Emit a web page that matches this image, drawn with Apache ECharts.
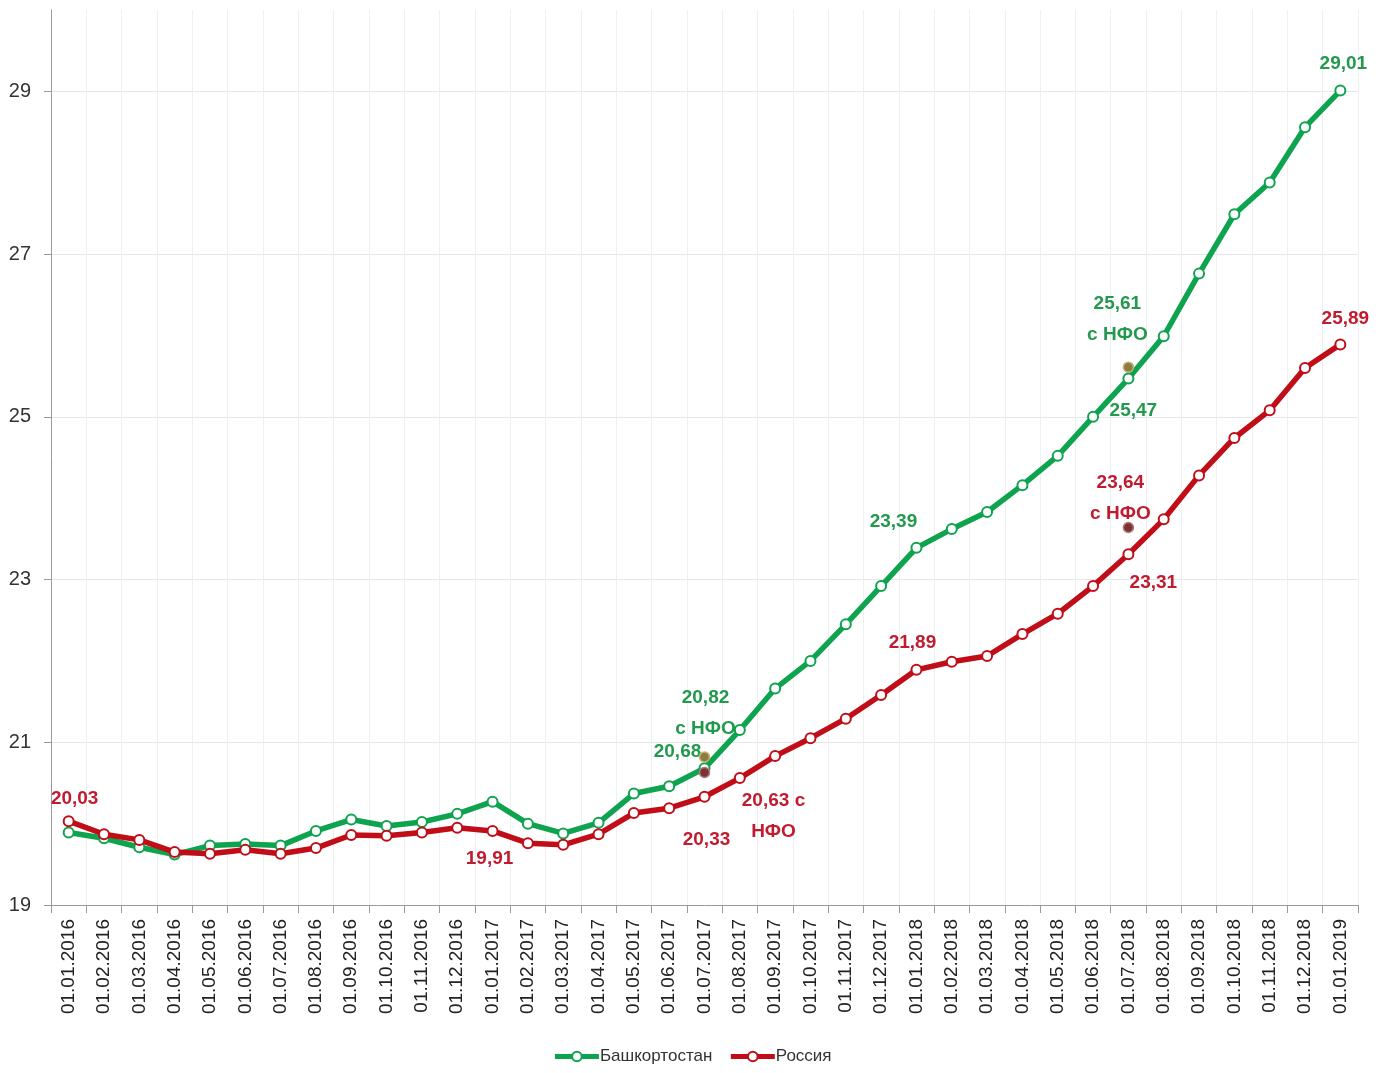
<!DOCTYPE html>
<html>
<head>
<meta charset="utf-8">
<script src="https://cdn.jsdelivr.net/npm/echarts@6/dist/echarts.min.js"></script>
<style>html,body{margin:0;padding:0;background:#fff}#c{width:1384px;height:1073px}</style>
</head>
<body>
<div id="c"></div>
<script>
const categories = ['01.01.2016','01.02.2016','01.03.2016','01.04.2016','01.05.2016','01.06.2016','01.07.2016','01.08.2016','01.09.2016','01.10.2016','01.11.2016','01.12.2016',
'01.01.2017','01.02.2017','01.03.2017','01.04.2017','01.05.2017','01.06.2017','01.07.2017','01.08.2017','01.09.2017','01.10.2017','01.11.2017','01.12.2017',
'01.01.2018','01.02.2018','01.03.2018','01.04.2018','01.05.2018','01.06.2018','01.07.2018','01.08.2018','01.09.2018','01.10.2018','01.11.2018','01.12.2018','01.01.2019'];
const bashName = 'Башкортостан';
const rusName = 'Россия';
const bashValues = [19.89,19.82,19.71,19.62,19.73,19.75,19.73,19.91,20.05,19.97,20.02,20.12,20.27,20.00,19.88,20.01,20.37,20.46,20.68,21.15,21.66,22.00,22.45,22.92,23.39,23.62,23.83,24.16,24.52,25.00,25.47,25.99,26.76,27.49,27.88,28.56,29.01];
const rusValues = [20.03,19.87,19.80,19.65,19.63,19.68,19.63,19.70,19.86,19.85,19.89,19.95,19.91,19.76,19.74,19.87,20.13,20.19,20.33,20.56,20.83,21.05,21.29,21.58,21.89,21.99,22.06,22.33,22.58,22.92,23.31,23.74,24.28,24.74,25.08,25.60,25.89];
const nfoCategories = ['01.07.2017','01.07.2018'];
const bashNfo = [20.82, 25.61];
const rusNfo = [20.63, 23.64];
const nfoSuffix = 'с НФО';
const yTicks = [19,21,23,25,27,29];

// label placements (style only)
const bashLabelOffsets = {18:[-27,-17],24:[-23,-26],30:[5,32],36:[3,-27]};
const rusLabelOffsets = {0:[6,-22],12:[-3,28],18:[2,43],24:[-4,-27],30:[25,28],36:[5,-26]};
const bashNfoOffsets = [[1,-44],[-11,-48]];
const rusNfoOffsets = [[69,44],[-8,-29]];

const GREEN = '#0ea34f', RED = '#c00d18';
const GREEN_T = '#23994e', RED_T = '#c11b30';
const FONT = "'Liberation Sans',Arial,sans-serif";
const fmt = v => v.toFixed(2).replace('.', ',');

function lineData(values, offsets, tcolor) {
  return values.map((v, i) => {
    if (!offsets[i]) return v;
    return {value: v, label: {show: true, position: 'inside', align: 'center', verticalAlign: 'middle',
      offset: offsets[i], color: tcolor, fontFamily: FONT, fontWeight: 'bold', fontSize: 19,
      formatter: p => fmt(p.value)}};
  });
}
function nfoData(cats, vals, offsets, tcolor, texts) {
  return cats.map((c, k) => ({value: [c, vals[k]], label: {show: true, position: 'inside', align: 'center', verticalAlign: 'middle',
    offset: offsets[k], color: tcolor, fontFamily: FONT, fontWeight: 'bold', fontSize: 19, lineHeight: 31,
    formatter: texts[k]}}));
}

const chart = echarts.init(document.getElementById('c'), null, {renderer: 'canvas'});
chart.setOption({
  animation: false,
  backgroundColor: '#fff',
  grid: {left: 51, top: 10, right: 26, bottom: 168, containLabel: false},
  legend: {
    data: [bashName, rusName], bottom: 3, left: 'center', itemWidth: 44, itemHeight: 12, itemGap: 16,
    lineStyle: {width: 5},
    textStyle: {fontFamily: FONT, fontSize: 17, color: '#333', padding: [0,0,0,-4]}
  },
  xAxis: {
    type: 'category', data: categories, boundaryGap: true,
    axisLine: {lineStyle: {color: '#9a9a9a', width: 1}},
    axisTick: {show: true, length: 8, lineStyle: {color: '#9a9a9a'}, interval: 0},
    axisLabel: {rotate: 90, interval: 0, margin: 14, fontFamily: FONT, fontSize: 19, color: '#222'},
    splitLine: {show: true, interval: 0, lineStyle: {color: '#efefef', width: 1}}
  },
  yAxis: {
    type: 'value', min: 19, max: 30, interval: 2,
    axisLine: {show: true, lineStyle: {color: '#9a9a9a'}},
    axisTick: {show: true, length: 7, lineStyle: {color: '#9a9a9a'}},
    axisLabel: {showMaxLabel: false, margin: 20, fontFamily: FONT, fontSize: 20, color: '#333',
      formatter: v => (yTicks.indexOf(v) >= 0 ? String(v) : '')},
    splitLine: {show: true, showMaxLine: false, lineStyle: {color: '#e6e6e6', width: 1}}
  },
  series: [
    {name: bashName, type: 'line', data: lineData(bashValues, bashLabelOffsets, GREEN_T), z: 3,
     symbol: 'circle', symbolSize: 10, lineStyle: {color: GREEN, width: 5.5},
     itemStyle: {color: '#fff', borderColor: GREEN, borderWidth: 2}},
    {name: rusName, type: 'line', data: lineData(rusValues, rusLabelOffsets, RED_T), z: 4,
     symbol: 'circle', symbolSize: 10, lineStyle: {color: RED, width: 5.5},
     itemStyle: {color: '#fff', borderColor: RED, borderWidth: 2}},
    {name: bashName + ' НФО', type: 'scatter', z: 5, symbolSize: 10,
     itemStyle: {color: '#8e7c3c', borderColor: '#c2b27a', borderWidth: 1.5, opacity: 1},
     data: nfoData(nfoCategories, bashNfo, bashNfoOffsets, GREEN_T,
       bashNfo.map(v => fmt(v) + '\n' + nfoSuffix))},
    {name: rusName + ' НФО', type: 'scatter', z: 5, symbolSize: 10,
     itemStyle: {color: '#7a3434', borderColor: '#b07a7a', borderWidth: 1.5, opacity: 1},
     data: nfoData(nfoCategories, rusNfo, rusNfoOffsets, RED_T,
       [fmt(rusNfo[0]) + ' с\nНФО', fmt(rusNfo[1]) + '\n' + nfoSuffix])}
  ]
});
</script>
</body>
</html>
